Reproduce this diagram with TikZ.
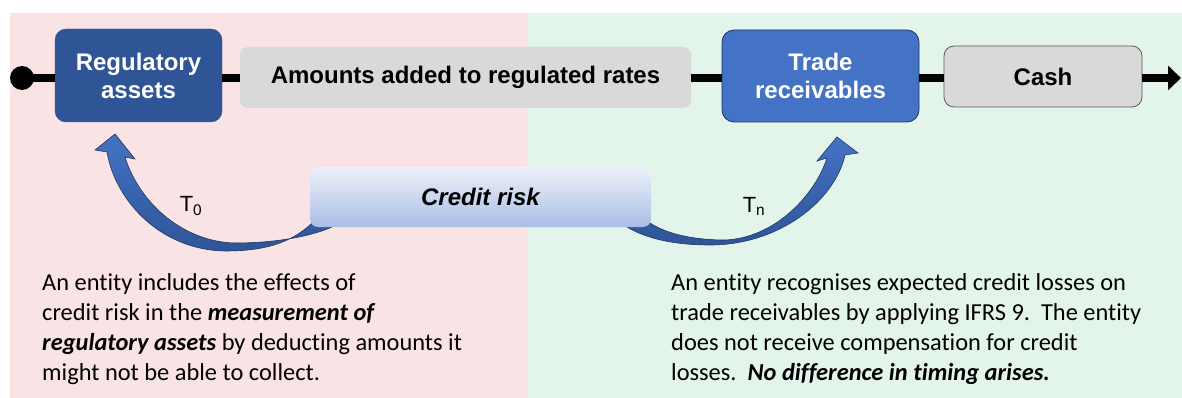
\documentclass[tikz,border=0pt]{standalone}
\usepackage{fontspec}
\setmainfont{Carlito}[Ligatures=NoCommon]
\newfontfamily\arialf{Liberation Sans}
\usetikzlibrary{arrows.meta}
\definecolor{pinkbg}{HTML}{F9E3E4}
\definecolor{greenbg}{HTML}{E3F4EA}
\definecolor{darkblue}{HTML}{2F5597}
\definecolor{midblue}{HTML}{4472C4}
\definecolor{outlineblue}{HTML}{1F3864}
\definecolor{boxgray}{HTML}{D9D9D9}
\definecolor{cashline}{HTML}{595959}
\definecolor{crtop}{HTML}{EEF1FA}
\definecolor{crbot}{HTML}{A9BEE4}
\begin{document}
\begin{tikzpicture}[x=1pt,y=-1pt,
  boxfont/.style={font=\arialf\bfseries\fontsize{24}{28}\selectfont},
  procbox/.style={inner sep=0pt, align=center, boxfont},
  regbox/.style={procbox, fill=darkblue, draw=darkblue, text=white, rounded corners=11pt,
    minimum width=167pt, minimum height=93pt},
  amtbox/.style={procbox, fill=boxgray, rounded corners=8pt,
    minimum width=451pt, minimum height=61pt},
  tradebox/.style={procbox, fill=midblue, draw=outlineblue, line width=0.8pt, text=white,
    rounded corners=12pt, minimum width=197pt, minimum height=92pt},
  cashbox/.style={procbox, fill=boxgray, draw=cashline, line width=0.8pt,
    rounded corners=10pt, minimum width=198pt, minimum height=61pt},
  creditbox/.style={inner sep=0pt, top color=crtop, bottom color=crbot, rounded corners=8pt,
    minimum width=341pt, minimum height=60pt, font=\arialf\bfseries\itshape\fontsize{24}{28}\selectfont},
  mainline/.style={line width=8.5pt, black},
  bentarrow/.style={top color=midblue, bottom color=darkblue, draw=outlineblue, line width=0.6pt},
  tlabel/.style={font=\arialf\fontsize{22}{22}\selectfont, inner sep=0pt},
  bodytext/.style={anchor=north west, inner sep=0pt, align=left, font=\fontsize{24.4}{30}\selectfont}
]
\useasboundingbox (0,0) rectangle (1182,398);
% background panels
\fill[pinkbg] (10,13) rectangle (527,398);
\fill[greenbg] (527,13) rectangle (1182,398);

% curved arrows
\path[bentarrow] (115,134) -- (135,159) -- (125,157)
  .. controls (140,205) and (185,242) .. (235,243)
  .. controls (280,243) and (320,235) .. (342,222) -- (313,222)
  .. controls (290,245) and (260,251) .. (225,251)
  .. controls (160,250) and (115,200) .. (107,152) -- (95,150) -- cycle;
\path[bentarrow] (837,137) -- (858,153) -- (845,155)
  .. controls (835,200) and (780,245) .. (710,245)
  .. controls (670,245) and (640,237) .. (621,223) -- (650,223)
  .. controls (670,236) and (700,240) .. (725,240)
  .. controls (775,238) and (815,195) .. (827,158) -- (817,161) -- cycle;

% nodes
\node[circle, fill=black, minimum size=24pt, inner sep=0pt] (dot) at (22,78) {};
\node[regbox] (reg) at (138.5,75.5) {Regulatory\\assets};
\node[amtbox] (amt) at (465.5,77.5) {Amounts added to regulated rates};
\node[tradebox] (trade) at (820.5,76) {Trade\\receivables};
\node[cashbox] (cash) at (1043,76.5) {Cash};
\coordinate (lineend) at (1181,78);
\node[creditbox] (credit) at (480.5,197) {Credit risk};

% main line
\draw[mainline] (dot.center) -- (dot.center -| reg.west);
\draw[mainline] (reg.east |- dot.center) -- (amt.west |- dot.center);
\draw[mainline] (amt.east |- dot.center) -- (trade.west |- dot.center);
\draw[mainline] (trade.east |- dot.center) -- (cash.west |- dot.center);
\draw[mainline, -{Triangle[length=13pt,width=24pt]}] (cash.east |- dot.center) -- (lineend);

% time labels
\node[tlabel] (t0) at (191,206) {T\textsubscript{0}};
\node[tlabel] (tn) at (754,206) {T\textsubscript{n}};

% explanatory texts
\node[bodytext] (lefttext) at (42,270.5) {\rule{0pt}{20pt}An entity includes the effects of\\
credit risk in the \textbf{\textit{measurement of}}\\
\textbf{\textit{regulatory assets}} by deducting amounts it\\
might not be able to collect.};
\node[bodytext] (righttext) at (671,270.5) {\rule{0pt}{20pt}An entity recognises expected credit losses on\\
trade receivables by applying IFRS 9.\ \ The entity\\
does not receive compensation for credit\\
losses.\ \ \textbf{\textit{No difference in timing arises.}}};
\end{tikzpicture}
\end{document}
